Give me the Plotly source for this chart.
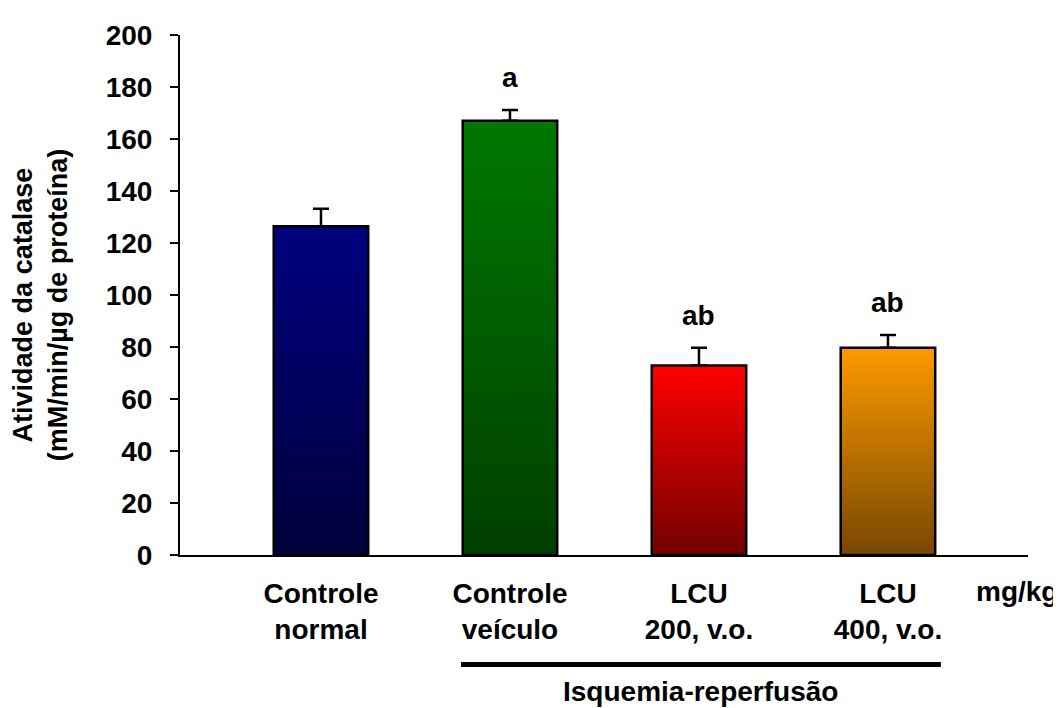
import plotly.graph_objects as go

categories = ["Controle<br>normal", "Controle<br>veículo", "LCU<br>200, v.o.", "LCU<br>400, v.o."]
means = [126.4, 167.0, 72.9, 79.7]
errors = [6.8, 4.2, 6.8, 4.9]
sig_labels = ["", "a", "ab", "ab"]
y_ticks = [0, 20, 40, 60, 80, 100, 120, 140, 160, 180, 200]

top_colors = ["#000080", "#007800", "#ff0000", "#ff9900"]
bottom_colors = ["#00003a", "#003f00", "#730000", "#774700"]

FONT = "Liberation Sans, Arial, sans-serif"
FS = 28
bar_width = 0.5

# plot area in screen pixels: x 180..1028, y 28..555 (page body has an 8px margin)
PL, PR, PT, PB = 180, 1028, 28, 555
PW, PH = PR - PL, PB - PT


def px(xp):
    return (xp - PL) / PW


def py(yp):
    return (PB - yp) / PH


fig = go.Figure()
for i, (m, ct, cb) in enumerate(zip(means, top_colors, bottom_colors)):
    x0, x1 = i - bar_width / 2, i + bar_width / 2
    fig.add_trace(go.Scatter(
        x=[x0, x0, x1, x1, x0], y=[0, m, m, 0, 0],
        mode="lines", fill="toself",
        fillgradient=dict(type="vertical", colorscale=[[0, cb], [1, ct]]),
        line=dict(color="black", width=2.5),
        showlegend=False, hoverinfo="skip"))

fig.add_trace(go.Scatter(
    x=list(range(len(means))), y=means, mode="markers",
    marker=dict(size=1, opacity=0),
    error_y=dict(type="data", array=errors, arrayminus=[0] * len(errors),
                 symmetric=False, color="black", thickness=2.5, width=8),
    showlegend=False, hoverinfo="skip"))

for i, (lab, m, e) in enumerate(zip(sig_labels, means, errors)):
    if lab:
        fig.add_annotation(x=i, y=m + e + 12.5, text="<b>%s</b>" % lab,
                           showarrow=False, xanchor="center", yanchor="middle",
                           font=dict(family=FONT, size=FS, color="black"))

fig.add_annotation(xref="paper", yref="paper", x=px(1017), y=py(592),
                   text="<b>mg/kg</b>", showarrow=False, xanchor="center", yanchor="middle",
                   font=dict(family=FONT, size=FS, color="black"))
fig.add_shape(type="line", xref="x", yref="paper", x0=0.741, x1=3.28,
              y0=py(666), y1=py(666),
              line=dict(color="black", width=5))
fig.add_annotation(xref="x", yref="paper", x=2.01, y=py(693),
                   text="<b>Isquemia-reperfusão</b>", showarrow=False,
                   xanchor="center", yanchor="middle",
                   font=dict(family=FONT, size=FS, color="black"))
fig.add_annotation(xref="paper", yref="paper", x=px(40), y=py(302),
                   text="<b>Atividade da catalase<br>(mM/min/µg de proteína)</b>",
                   textangle=-90, showarrow=False, xanchor="center", yanchor="middle",
                   font=dict(family=FONT, size=27, color="black"))

fig.update_layout(
    width=1053, height=700,
    margin=dict(l=PL - 8, r=1061 - PR, t=PT - 8, b=708 - PB, pad=0),
    paper_bgcolor="white", plot_bgcolor="white",
    font=dict(family=FONT, size=FS, color="black"),
    xaxis=dict(range=[-0.746, 3.741], tickmode="array",
               tickvals=list(range(len(categories))),
               ticktext=["<b>%s</b>" % c for c in categories],
               showline=True, linecolor="black", linewidth=2,
               ticks="", showgrid=False, zeroline=False,
               ticklabelstandoff=12, tickfont=dict(family=FONT, size=FS)),
    yaxis=dict(range=[0, 200], tickmode="array", tickvals=y_ticks,
               ticktext=["<b>%d</b>" % t for t in y_ticks],
               showline=True, linecolor="black", linewidth=2,
               ticks="outside", ticklen=8, tickwidth=2, tickcolor="black",
               showgrid=False, zeroline=False, ticklabelstandoff=12,
               tickfont=dict(family=FONT, size=FS)),
)

fig.write_html("out.html")
